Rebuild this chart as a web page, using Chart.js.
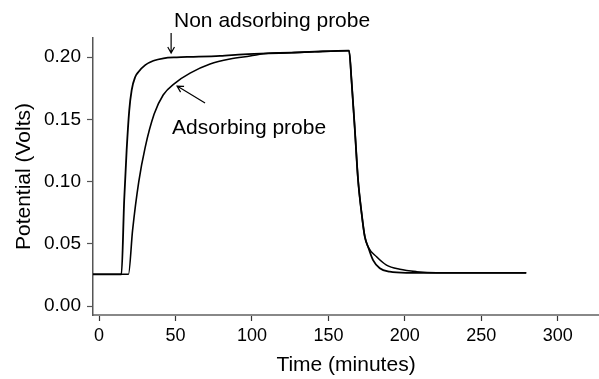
<!DOCTYPE html>
<html>
<head>
<meta charset="utf-8">
<script src="https://cdn.jsdelivr.net/npm/chart.js@4/dist/chart.umd.min.js"></script>
<style>
  html, body { margin: 0; padding: 0; background: #fff; }
  .chart-box { width: 599px; height: 379px; position: relative; }
</style>
</head>
<body>
<div class="chart-box"><canvas id="probe-chart"></canvas></div>
<script>
const X_TICKS = [0, 50, 100, 150, 200, 250, 300];
const Y_TICKS = [0.0, 0.05, 0.1, 0.15, 0.2];

// non adsorbing probe (time in minutes, potential in volts)
const NONADS_T = [-4, 14.6, 16.4, 18.0, 19.7, 21.3, 23.6, 25.7, 30.1, 35.5, 42.1, 50.8, 61.7, 79.1, 94.3, 110.6, 125.9, 141.1, 162.9, 163.5, 165.1, 167.3, 169.4, 171.7, 173.8, 176.0, 179.2, 183.6, 190.1, 201.0, 279.4];
const NONADS_V = [0.0255, 0.0255, 0.085, 0.125, 0.157, 0.1735, 0.184, 0.188, 0.1935, 0.197, 0.199, 0.1998, 0.2002, 0.201, 0.2022, 0.203, 0.2035, 0.2043, 0.2051, 0.2051, 0.1815, 0.1414, 0.1012, 0.0747, 0.0557, 0.0474, 0.0369, 0.0303, 0.0276, 0.0267, 0.0267];

// adsorbing probe
const ADS_T = [-4, 19.2, 21.9, 25.9, 30.1, 36.0, 41.9, 49.7, 59.5, 72.6, 85.6, 98.7, 110.6, 125.9, 141.1, 162.9, 163.5, 165.1, 167.3, 169.4, 171.7, 173.8, 176.0, 181.5, 188.0, 196.7, 207.6, 220.6, 279.4];
const ADS_V = [0.0255, 0.0255, 0.061, 0.0996, 0.1273, 0.1542, 0.1695, 0.1791, 0.1871, 0.1944, 0.1984, 0.2008, 0.203, 0.2035, 0.2043, 0.2051, 0.2051, 0.1815, 0.1414, 0.1012, 0.0747, 0.0557, 0.0474, 0.0396, 0.0329, 0.0295, 0.0276, 0.0267, 0.0267];

const FONT = "'Liberation Sans', Arial, sans-serif";

const toPoints = (ts, vs) => ts.map((t, i) => ({ x: t, y: vs[i] }));

// text + arrows, placed in axis units
const annotations = {
	id: "annotations",
	afterDraw(chart) {
		const { ctx } = chart;
		const x = chart.scales.x;
		const y = chart.scales.y;
		const px = (t) => x.getPixelForValue(t);
		const py = (v) => y.getPixelForValue(v);

		ctx.save();
		ctx.fillStyle = "#000";
		ctx.font = "21px " + FONT;
		ctx.textBaseline = "middle";
		ctx.textAlign = "left";
		ctx.fillText("Non adsorbing probe", px(49), py(0.2289));
		ctx.fillText("Adsorbing probe", px(47.7), py(0.143));

		const arrow = (x1, y1, x2, y2) => {
			const ang = Math.atan2(y2 - y1, x2 - x1);
			const head = 7;
			ctx.beginPath();
			ctx.moveTo(x1, y1);
			ctx.lineTo(x2, y2);
			ctx.moveTo(x2 - head * Math.cos(ang - 0.5), y2 - head * Math.sin(ang - 0.5));
			ctx.lineTo(x2, y2);
			ctx.lineTo(x2 - head * Math.cos(ang + 0.5), y2 - head * Math.sin(ang + 0.5));
			ctx.stroke();
		};
		ctx.strokeStyle = "#000";
		ctx.lineWidth = 1.2;
		arrow(px(47.1), py(0.2193), px(47.1), py(0.2032));
		arrow(px(69.3), py(0.163), px(51), py(0.1767));
		ctx.restore();
	},
};

new Chart(document.getElementById("probe-chart"), {
	type: "line",
	data: {
		datasets: [
			{
				label: "Non adsorbing probe",
				data: toPoints(NONADS_T, NONADS_V),
				borderColor: "#000",
				borderWidth: 1.8,
				pointRadius: 0,
				cubicInterpolationMode: "monotone",
			},
			{
				label: "Adsorbing probe",
				data: toPoints(ADS_T, ADS_V),
				borderColor: "#000",
				borderWidth: 1.6,
				pointRadius: 0,
				cubicInterpolationMode: "monotone",
			},
		],
	},
	options: {
		responsive: true,
		maintainAspectRatio: false,
		animation: false,
		layout: {
			padding: { top: 38, right: 0, left: 0, bottom: 0 },
		},
		plugins: {
			legend: { display: false },
			tooltip: { enabled: false },
		},
		scales: {
			x: {
				type: "linear",
				min: -4,
				max: 327,
				afterBuildTicks: (scale) => {
					scale.ticks = X_TICKS.map((v) => ({ value: v }));
				},
				afterFit: (scale) => {
					scale.height = 64;
				},
				grid: {
					drawOnChartArea: false,
					drawTicks: true,
					tickLength: 6,
					tickColor: "#333",
					tickWidth: 1.2,
				},
				border: {
					color: "#888",
					width: 2,
				},
				ticks: {
					color: "#000",
					padding: 4,
					maxRotation: 0,
					font: { family: FONT, size: 18 },
				},
				title: {
					display: true,
					text: "Time (minutes)",
					color: "#000",
					font: { family: FONT, size: 21, lineHeight: 1.2 },
					padding: { top: 0, bottom: 1 },
				},
			},
			y: {
				min: -0.0072,
				max: 0.2153,
				afterBuildTicks: (scale) => {
					scale.ticks = Y_TICKS.map((v) => ({ value: v }));
				},
				afterFit: (scale) => {
					scale.width = 93;
				},
				grid: {
					drawOnChartArea: false,
					drawTicks: true,
					tickLength: 6,
					tickColor: "#555",
					tickWidth: 1.2,
				},
				border: {
					color: "#555",
					width: 1.5,
				},
				ticks: {
					color: "#000",
					padding: 6,
					font: { family: FONT, size: 19 },
					callback: (value) => value.toFixed(2),
				},
				title: {
					display: true,
					text: "Potential (Volts)",
					color: "#000",
					font: { family: FONT, size: 21, lineHeight: 1.2 },
					padding: { top: 12, bottom: 0 },
				},
			},
		},
	},
	plugins: [annotations],
});
</script>
</body>
</html>
